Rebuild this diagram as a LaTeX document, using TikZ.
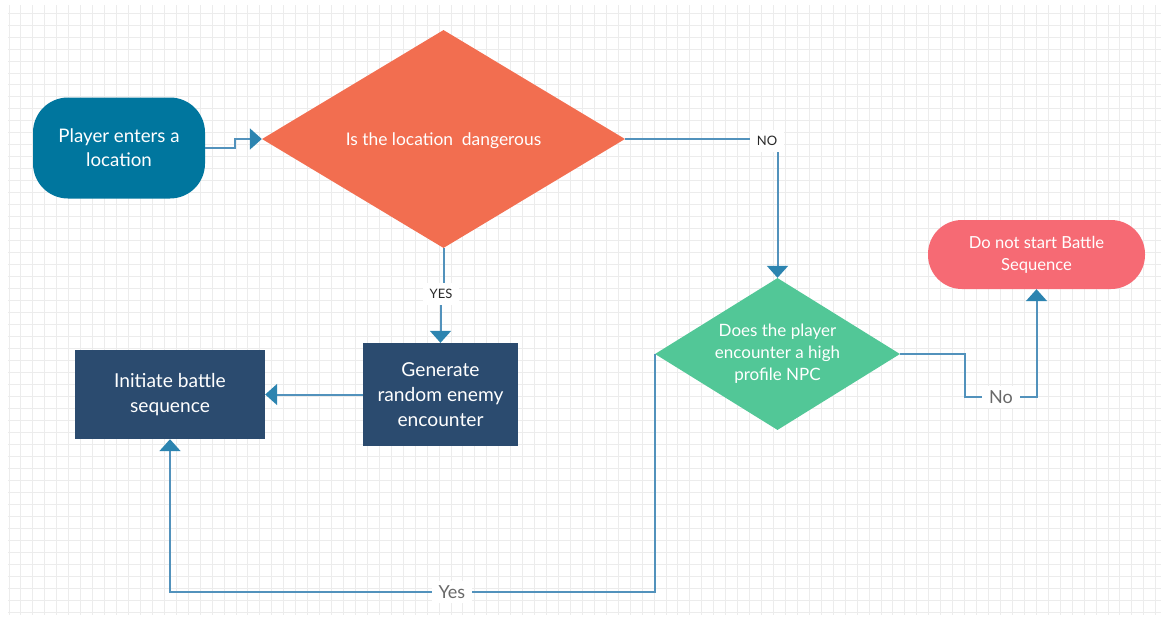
\documentclass[tikz,border=0pt]{standalone}
\usepackage{fontspec}
\setmainfont{Lato}
\usetikzlibrary{shapes.geometric,arrows.meta}

\definecolor{gridc}{RGB}{236,236,236}
\definecolor{startc}{RGB}{0,118,158}
\definecolor{orangec}{RGB}{242,110,80}
\definecolor{greenc}{RGB}{82,199,151}
\definecolor{navyc}{RGB}{43,75,111}
\definecolor{pinkc}{RGB}{246,106,116}
\definecolor{linec}{RGB}{82,146,188}
\definecolor{tipc}{RGB}{44,132,176}
\definecolor{labc}{RGB}{40,40,40}
\definecolor{lab2c}{RGB}{105,105,105}

\tikzset{
  txt/.style={text=white, align=center, inner sep=0pt},
  term/.style={txt, rounded corners=35pt},
  proc/.style={txt},
  decision/.style={txt, diamond},
  conn/.style={draw=linec, line width=2pt,
    -{Triangle[length=12pt,width=21pt,color=tipc]}},
  lab/.style={fill=white, text=labc, inner xsep=7pt, inner ysep=6pt,
    font=\fontsize{13}{15}\selectfont},
  lab2/.style={fill=white, text=lab2c, inner xsep=7pt, inner ysep=4pt,
    font=\fontsize{18}{21}\selectfont}
}

\begin{document}
\begin{tikzpicture}[x=1pt,y=-1pt]
\useasboundingbox (0,0) rectangle (1165,619);
\fill[white] (0,0) rectangle (1165,619);

% background grid
\foreach \i in {0,...,96}
  \draw[gridc, line width=0.9pt] ({9+\i*11.945},5) -- ({9+\i*11.945},615);
\foreach \j in {0,...,50}
  \draw[gridc, line width=0.9pt] (8,{13+\j*11.99}) -- (1161,{13+\j*11.99});

% shapes
\node[term, fill=startc, minimum width=172pt, minimum height=101pt,
      font=\fontsize{18.7}{24}\selectfont] (start) at (119,148)
      {Player enters a\\location};
\node[decision, fill=orangec, minimum width=363pt, minimum height=218pt,
      aspect=1.665, font=\fontsize{17.4}{20}\selectfont] (dia1) at (443.5,139)
      {\raisebox{-2pt}[\height][\depth]{Is the location\ \ dangerous}};
\node[proc, fill=navyc, minimum width=155pt, minimum height=103pt,
      font=\fontsize{19.2}{25}\selectfont] (gen) at (440.5,394.5)
      {Generate\\random enemy\\encounter};
\node[proc, fill=navyc, minimum width=190pt, minimum height=89pt,
      font=\fontsize{19.2}{25}\selectfont] (init) at (170,394.5)
      {Initiate battle\\sequence};
\node[decision, fill=greenc, minimum width=245pt, minimum height=152pt,
      aspect=1.61, font=\fontsize{17}{22}\selectfont] (dia2) at (777.5,354)
      {Does the player\\encounter a high\\profile NPC};
\node[term, fill=pinkc, minimum width=217pt, minimum height=69pt,
      rounded corners=34pt, font=\fontsize{16.6}{22}\selectfont] (stop) at (1036.5,254.5)
      {Do not start Battle\\Sequence};

% connectors
\draw[conn] (start.east) -- ++(30,0) |- (dia1.west);
\draw[conn] (dia1.east) -| (dia2.north);
\node[lab] (nolab) at (767,141) {NO};
\draw[conn] (dia1.south) -- ++(0,40) -| (gen.north);
\node[lab] (yeslab) at (441,294) {YES};
\draw[conn] (gen.west) -- (init.east);
\draw[conn] (dia2.west) -- ++(0,238) -| (init.south);
\node[lab2] (yes2) at (452,592) {Yes};
\draw[conn] (dia2.east) -- ++(65,0) -- ++(0,43) -| (stop.south);
\node[lab2] (no2) at (1001,397) {No};
\end{tikzpicture}
\end{document}
